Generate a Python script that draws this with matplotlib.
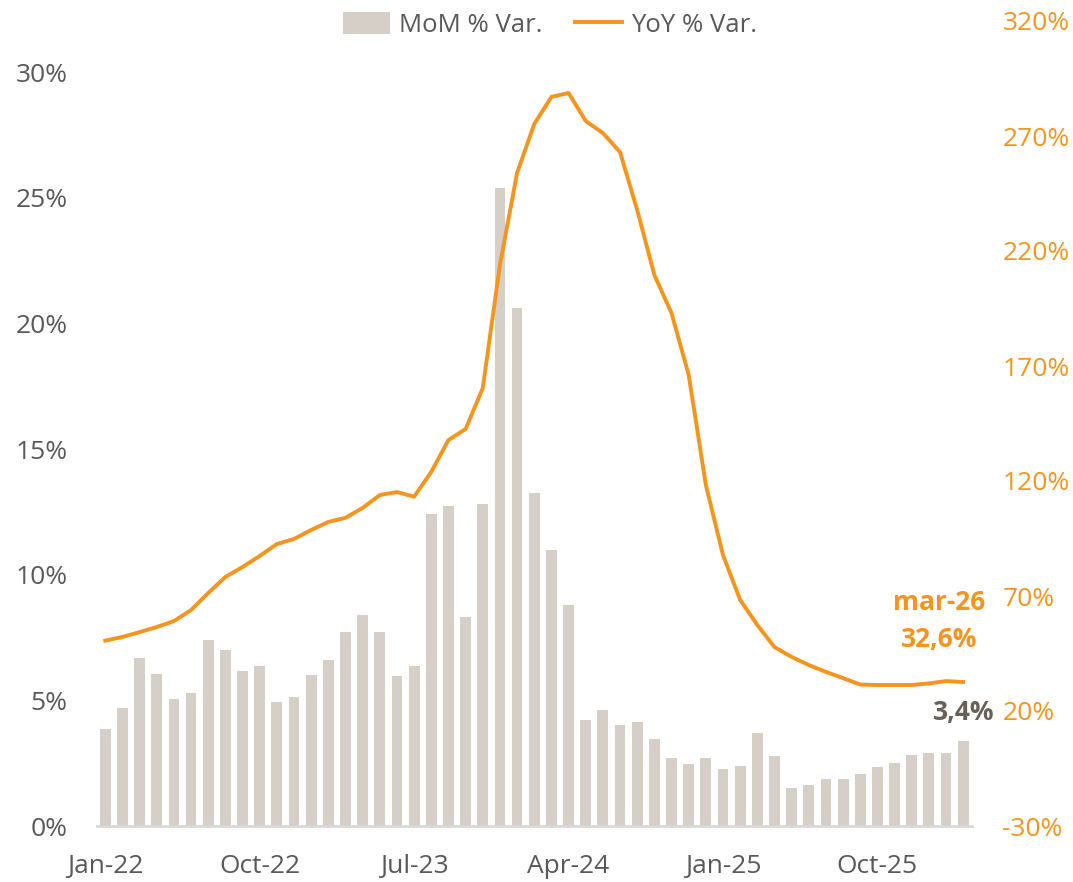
import numpy as np
import matplotlib
matplotlib.use("Agg")
import matplotlib.pyplot as plt
from matplotlib.ticker import FuncFormatter

plt.rcParams['font.family'] = ['Open Sans', 'DejaVu Sans']

# data
months = ["Jan-22", "Feb-22", "Mar-22", "Apr-22", "May-22", "Jun-22", "Jul-22", "Aug-22", "Sep-22",
          "Oct-22", "Nov-22", "Dec-22", "Jan-23", "Feb-23", "Mar-23", "Apr-23", "May-23", "Jun-23",
          "Jul-23", "Aug-23", "Sep-23", "Oct-23", "Nov-23", "Dec-23", "Jan-24", "Feb-24", "Mar-24",
          "Apr-24", "May-24", "Jun-24", "Jul-24", "Aug-24", "Sep-24", "Oct-24", "Nov-24", "Dec-24",
          "Jan-25", "Feb-25", "Mar-25", "Apr-25", "May-25", "Jun-25", "Jul-25", "Aug-25", "Sep-25",
          "Oct-25", "Nov-25", "Dec-25", "Jan-26", "Feb-26", "Mar-26"]
mom = [3.86, 4.7, 6.7, 6.05, 5.05, 5.3, 7.4, 7.0, 6.15, 6.35,
       4.95, 5.15, 6.0, 6.6, 7.7, 8.4, 7.7, 5.95, 6.35, 12.4,
       12.75, 8.3, 12.8, 25.4, 20.6, 13.25, 11.0, 8.8, 4.2, 4.6,
       4.0, 4.15, 3.45, 2.7, 2.45, 2.7, 2.25, 2.4, 3.7, 2.8,
       1.52, 1.63, 1.88, 1.88, 2.08, 2.33, 2.49, 2.84, 2.9, 2.9, 3.37]
yoy = [50.6, 52.2, 54.3, 56.5, 59.1, 63.9, 71.3, 78.3, 82.6, 87.4,
       92.6, 94.8, 98.7, 102.2, 104.0, 108.3, 113.9, 115.2, 113.2, 124.0,
       137.8, 142.6, 160.4, 214.0, 253.9, 275.2, 287.0, 288.7, 276.5, 271.3,
       263.0, 237.8, 209.6, 193.0, 166.1, 118.3, 87.8, 68.3, 57.4, 47.8,
       43.5, 40.0, 37.0, 34.3, 31.5, 31.3, 31.3, 31.3, 32.0, 33.0, 32.6]
tick_every = 9

ORANGE = '#F7941D'
BAR = '#D6CFC8'
GREY = '#595959'

x = np.arange(len(months))

fig = plt.figure(figsize=(10.73, 8.82), dpi=100)
ax = fig.add_axes([96.7 / 1073, 1 - 826 / 882, (971.8 - 96.7) / 1073, (826 - 21) / 882])
ax2 = ax.twinx()

bars = ax.bar(x, mom, width=0.63, color=BAR, label='MoM % Var.', zorder=2)
line, = ax2.plot(x, yoy, color=ORANGE, lw=2.8, label='YoY % Var.', solid_joinstyle='round')

ax.set_xlim(-0.5, len(months) - 0.5)
ax.set_ylim(0, 32.03)
ax.set_yticks(np.arange(0, 31, 5))
ax.yaxis.set_major_formatter(FuncFormatter(lambda v, p: f"{v:.0f}%"))
ax2.set_ylim(-30, 320)
ax2.set_yticks(np.arange(-30, 321, 50))
ax2.yaxis.set_major_formatter(FuncFormatter(lambda v, p: f"{v:.0f}%"))

ax.set_xticks(x[::tick_every])
ax.set_xticklabels(months[::tick_every])

ax.tick_params(axis='x', length=0, pad=20, labelsize=19, labelcolor=GREY)
ax.tick_params(axis='y', length=0, pad=21, labelsize=19, labelcolor=GREY)
ax2.tick_params(axis='y', length=0, pad=22, labelsize=19, labelcolor=ORANGE)

for a in (ax, ax2):
    for s in a.spines.values():
        s.set_visible(False)
ax.spines['bottom'].set_visible(True)
ax.spines['bottom'].set_color('#D9D9D9')
ax.spines['bottom'].set_linewidth(2)

# end labels
ax.annotate(f"{mom[-1]:.1f}%".replace(".", ","), (x[-1], mom[-1]), xytext=(0, 21),
            textcoords='offset points', ha='center', va='center', fontsize=19,
            fontweight='bold', color='#6B6057')
ax2.annotate("mar-26\n" + f"{yoy[-1]:.1f}%".replace(".", ","), (x[-1], yoy[-1]), xytext=(-17, 44),
             textcoords='offset points', ha='center', va='center', fontsize=19,
             fontweight='bold', color=ORANGE, linespacing=1.45)

fig.legend(handles=[bars, line], loc='center', bbox_to_anchor=(550 / 1073, 1 - 25 / 882),
           ncol=2, frameon=False, fontsize=18.5, labelcolor=GREY, handlelength=1.85,
           handleheight=0.9, columnspacing=1.25, handletextpad=0.35)

fig.savefig("out.png", dpi=100)
